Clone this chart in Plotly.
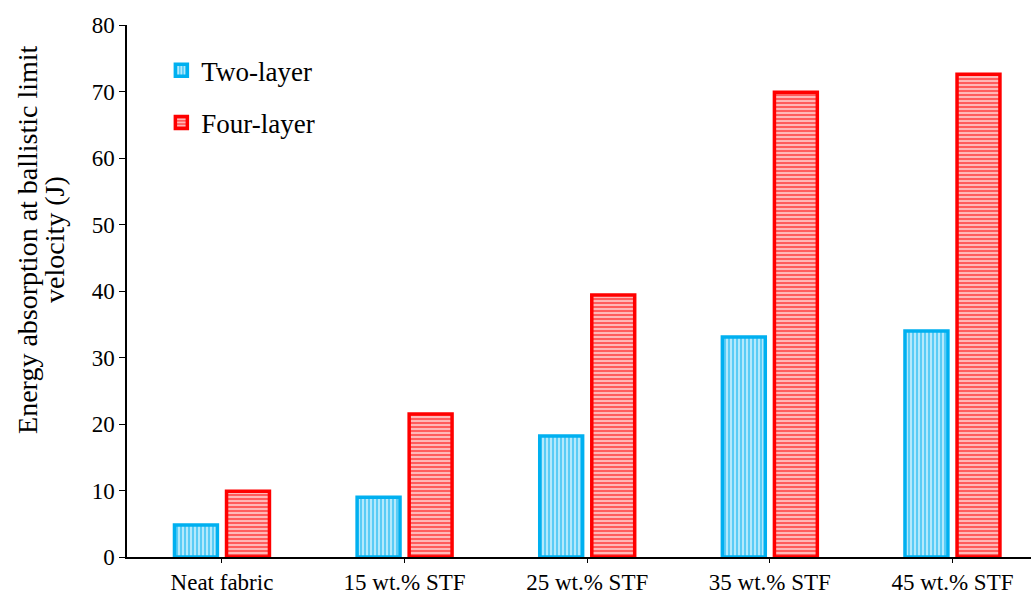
import plotly.graph_objects as go

categories = ["Neat fabric", "15 wt.% STF", "25 wt.% STF", "35 wt.% STF", "45 wt.% STF"]
two_layer = [4.8, 9.0, 18.2, 33.1, 34.0]
four_layer = [9.9, 21.5, 39.4, 69.9, 72.6]
y_ticks = [0, 10, 20, 30, 40, 50, 60, 70, 80]
y_title_lines = ["Energy absorption at ballistic limit", "velocity (J)"]

FONT = "Liberation Serif, Times New Roman, serif"
BLUE = "#00B0F0"
RED = "#FF0000"

fig = go.Figure()
fig.add_trace(go.Bar(
    x=categories, y=two_layer, name="Two-layer",
    width=0.235, offset=-0.26, legendgroup="a",
    marker=dict(color=BLUE, line=dict(color=BLUE, width=3.5),
                pattern=dict(shape="|", fgcolor=BLUE, bgcolor="#B3E9FC",
                             size=4, solidity=0.5, fillmode="overlay")),
))
fig.add_trace(go.Bar(
    x=categories, y=four_layer, name="Four-layer",
    width=0.235, offset=0.025, legendgroup="b",
    marker=dict(color=RED, line=dict(color=RED, width=3.5),
                pattern=dict(shape="-", fgcolor=RED, bgcolor="#FFB8B8",
                             size=4, solidity=0.5, fillmode="overlay")),
))

# two-line rotated y-axis title, placed as annotations for tight line spacing
plot_w = 1031 - 127
for text, px in zip(y_title_lines, [28, 55]):
    fig.add_annotation(
        text=text, xref="paper", yref="paper",
        x=(px - 127) / plot_w, y=0.596, xanchor="center", yanchor="middle",
        textangle=-90, showarrow=False,
        font=dict(family=FONT, size=28, color="black"),
    )

fig.update_layout(
    width=1031, height=597,
    margin=dict(l=127, r=0, t=25, b=40),
    plot_bgcolor="white", paper_bgcolor="white",
    barmode="overlay",
    font=dict(family=FONT, size=20, color="black"),
    showlegend=True,
    legend=dict(x=0.038, y=0.96, xanchor="left", yanchor="top",
                font=dict(family=FONT, size=27), tracegroupgap=14,
                bgcolor="rgba(0,0,0,0)"),
)
fig.update_xaxes(
    range=[-0.52, 4.43], showline=True, linecolor="black", linewidth=1.5,
    ticks="outside", ticklen=4, tickcolor="black", automargin=False,
    tickfont=dict(family=FONT, size=23), showgrid=False,
)
fig.update_yaxes(
    range=[0, 80], tickvals=y_ticks, showline=True, linecolor="black", linewidth=1.5,
    ticks="outside", ticklen=6, tickcolor="black", showgrid=False, zeroline=False,
    automargin=False, tickfont=dict(family=FONT, size=23),
)

fig.write_html("out.html")
